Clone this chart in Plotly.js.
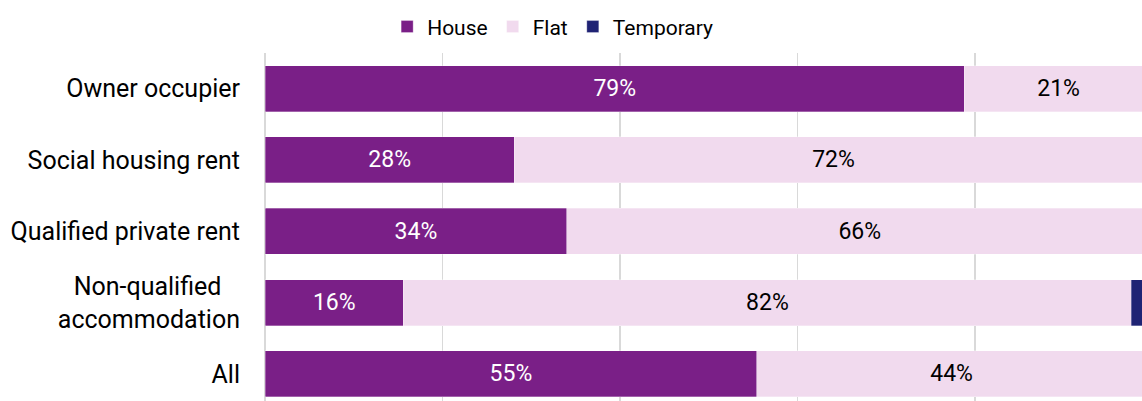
<!DOCTYPE html>
<html>
<head>
<meta charset="utf-8">
<script src="https://cdn.plot.ly/plotly-3.0.1.min.js"></script>
<style>html,body{margin:0;padding:0;background:#fff;}#chart{width:1142px;height:401px;}</style>
</head>
<body>
<div id="chart"></div>
<script>
const categories = ["Owner occupier", "Social housing rent", "Qualified private rent", "Non-qualified<br>accommodation", "All"];
const house = [78.8, 28.1, 34.0, 15.6, 55.4];
const flat = [21.2, 71.9, 66.0, 82.0, 43.9];
const temporary = [0, 0, 0, 2.4, 0.7];
const seriesNames = ["House", "Flat", "Temporary"];
const colors = ["#7A1F87", "#F1DAEE", "#1F2374"];

const FONT = "Roboto, 'Noto Sans', sans-serif";
const pct = v => Math.round(v) + "%";

const catLabels = categories.map(c => c.startsWith("Non-qualified") ? "Non-qualified\u00a0\u00a0\u00a0<br>accommodation" : c);

const traces = [
  {name: seriesNames[0], x: house, text: house.map(pct), textfont: {color: "#ffffff"}},
  {name: seriesNames[1], x: flat, text: flat.map(pct), textfont: {color: "#000000"}},
  {name: seriesNames[2], x: temporary, text: temporary.map(() => ""), textfont: {color: "#ffffff"}}
].map((t, i) => Object.assign({
  type: "bar",
  orientation: "h",
  y: catLabels,
  marker: {color: colors[i], line: {color: "rgba(255,255,255,0.6)", width: 0.5}},
  textposition: "inside",
  insidetextanchor: "middle",
  constraintext: "none",
  hoverinfo: "skip",
  cliponaxis: true
}, t));
traces.forEach(t => { t.textfont = Object.assign({family: FONT, size: 23}, t.textfont); });

const layout = {
  width: 1142,
  height: 401,
  margin: {l: 265, r: 0, t: 53, b: 0, pad: 0},
  barmode: "stack",
  bargap: 0.355,
  paper_bgcolor: "#ffffff",
  plot_bgcolor: "#ffffff",
  font: {family: FONT, size: 22, color: "#000000"},
  showlegend: true,
  legend: {
    orientation: "h",
    x: 0.328, xanchor: "center",
    y: 1.075, yanchor: "middle",
    font: {family: FONT, size: 21, color: "#000000"},
    traceorder: "normal",
    itemclick: false
  },
  xaxis: {
    range: [0, 98.8],
    showgrid: true,
    gridcolor: "#d9d9d9",
    gridwidth: 1.5,
    dtick: 20,
    zeroline: true,
    zerolinecolor: "#d9d9d9",
    zerolinewidth: 2,
    showticklabels: false,
    ticks: "",
    fixedrange: true
  },
  yaxis: {
    type: "category",
    range: [4.38, -0.5],
    showgrid: false,
    zeroline: false,
    ticks: "",
    ticklabelstandoff: 24,
    tickfont: {family: FONT, size: 25, color: "#000000"},
    fixedrange: true
  }
};

Plotly.newPlot("chart", traces, layout, {displayModeBar: false, staticPlot: true});
</script>
</body>
</html>
